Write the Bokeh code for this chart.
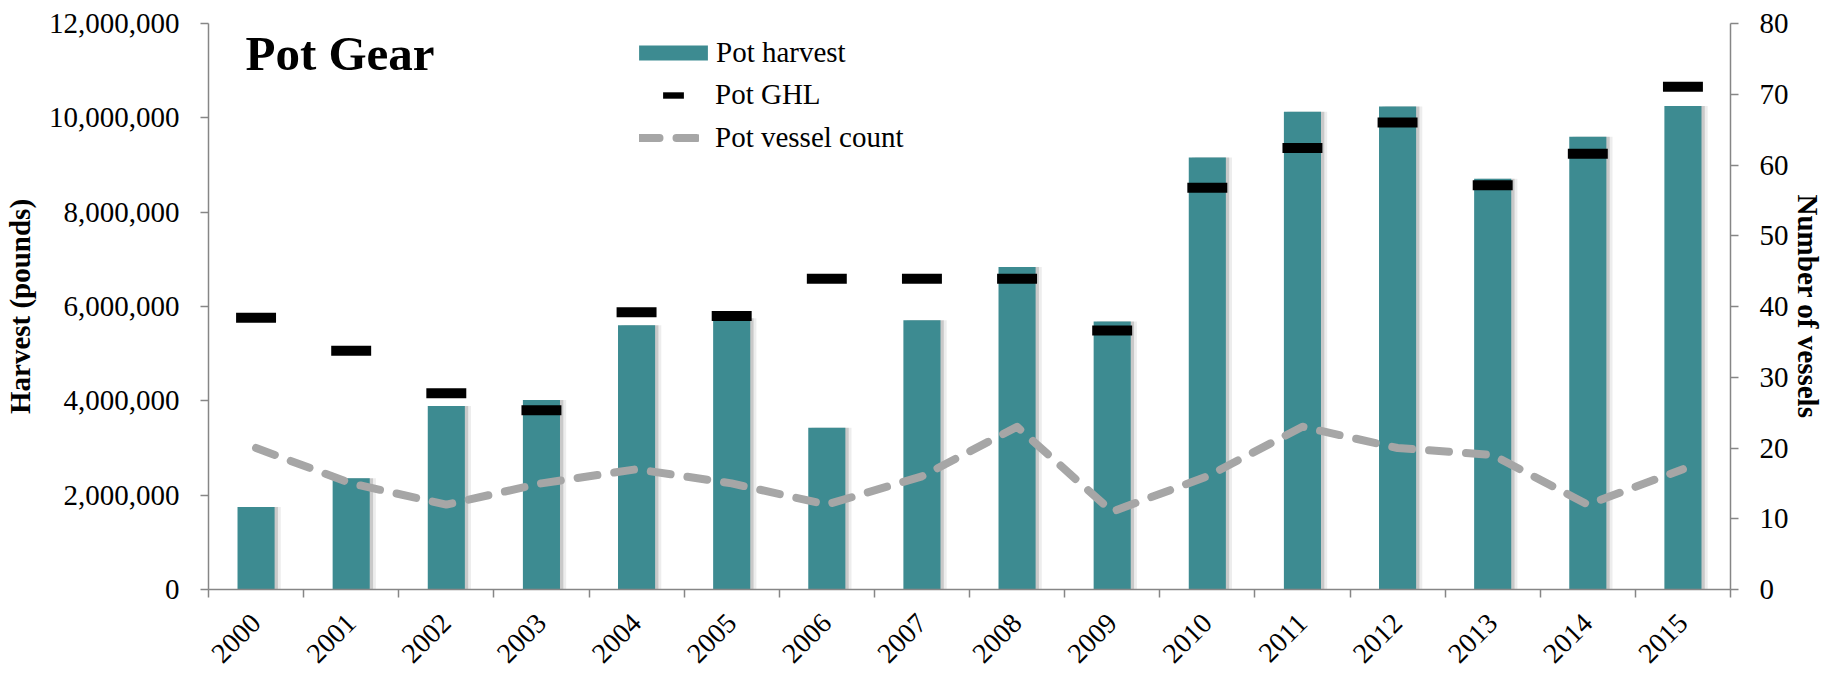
import math
from bokeh.plotting import figure
from bokeh.models import (FactorRange, Range1d, LinearAxis, FixedTicker, NumeralTickFormatter,
                          Legend, LegendItem, Label, ColumnDataSource)
from bokeh.transform import dodge
from bokeh.embed import file_html
from bokeh.resources import INLINE

# ---- data ----
years = [str(y) for y in range(2000, 2016)]
harvest = [1750000, 2360000, 3890000, 4020000, 5600000, 5750000, 3430000, 5710000,
           6840000, 5680000, 9160000, 10130000, 10240000, 8710000, 9600000, 10250000]
ghl = [5760000, 5060000, 4160000, 3800000, 5880000, 5800000, 6590000, 6590000,
       6590000, 5490000, 8520000, 9360000, 9900000, 8570000, 9240000, 10660000]
vessels = [20, 15, 12, 15, 17, 15, 12, 16, 23, 11, 16, 23, 20, 19, 12, 17]
left_ticks = [0, 2000000, 4000000, 6000000, 8000000, 10000000, 12000000]
right_ticks = [0, 10, 20, 30, 40, 50, 60, 70, 80]

FONT = "Liberation Serif"
GRAY = "#868686"
TEAL = "#3D8B91"

src = ColumnDataSource(dict(year=years, harvest=harvest, ghl=ghl, vessels=vessels))

p = figure(x_range=FactorRange(*years, range_padding=0), y_range=Range1d(0, 12000000),
           width=1827, height=673, output_backend="svg", toolbar_location=None,
           min_border_left=208, min_border_right=97, min_border_top=23, min_border_bottom=83,
           outline_line_color=None, background_fill_color="white")
p.extra_y_ranges = {"vessels": Range1d(0, 80)}
p.xgrid.visible = False
p.ygrid.visible = False

# shadows
p.vbar(x=dodge("year", 0.065, range=p.x_range), top="harvest", width=0.39, source=src,
       fill_color="black", fill_alpha=0.07, line_color=None)
p.vbar(x=dodge("year", 0.035, range=p.x_range), top="harvest", width=0.39, source=src,
       fill_color="black", fill_alpha=0.15, line_color=None)
bars = p.vbar(x="year", top="harvest", width=0.39, source=src, fill_color=TEAL, line_color=None)
ghl_r = p.rect(x="year", y="ghl", width=0.42, height=10, height_units="screen", source=src,
               fill_color="black", line_color=None)
line_r = p.line(x="year", y="vessels", y_range_name="vessels", source=src, line_color="#A6A6A6",
                line_width=8, line_dash="20 17", line_cap="round", line_join="round")

# left axis
ya = p.yaxis[0]
ya.ticker = FixedTicker(ticks=left_ticks, minor_ticks=[])
ya.formatter = NumeralTickFormatter(format="0,0")
ya.axis_label = "Harvest (pounds)"
ya.axis_label_text_font = FONT
ya.axis_label_text_font_style = "bold"
ya.axis_label_text_font_size = "29px"
ya.axis_label_text_color = "black"
ya.axis_label_standoff = 10
ya.major_label_text_font = FONT
ya.major_label_text_font_size = "29px"
ya.major_label_text_color = "black"
ya.major_label_standoff = 21
ya.axis_line_color = GRAY
ya.axis_line_width = 1.5
ya.major_tick_line_color = GRAY
ya.major_tick_line_width = 1.5
ya.major_tick_out = 8
ya.major_tick_in = 0

# right axis
ra = LinearAxis(y_range_name="vessels", ticker=FixedTicker(ticks=right_ticks, minor_ticks=[]),
                axis_label="Number of vessels", axis_label_text_font=FONT,
                axis_label_text_font_style="bold", axis_label_text_font_size="29px",
                axis_label_text_color="black", axis_label_standoff=0,
                major_label_text_font=FONT, major_label_text_color="black",
                major_label_text_font_size="29px", major_label_standoff=21,
                axis_line_color=GRAY, axis_line_width=1.5, major_tick_line_color=GRAY,
                major_tick_line_width=1.5, major_tick_out=8, major_tick_in=0)
p.add_layout(ra, "right")

# bottom: tick axis (category boundaries, synthetic coords) + label axis (categories)
tick_axis = LinearAxis(ticker=FixedTicker(ticks=list(range(len(years) + 1)), minor_ticks=[]),
                       major_label_overrides={i: "" for i in range(len(years) + 1)},
                       major_label_text_font_size="1px", major_label_standoff=0,
                       axis_line_color=GRAY, axis_line_width=1.5, major_tick_line_color=GRAY,
                       major_tick_line_width=1.5, major_tick_out=8, major_tick_in=0)
cat_axis = p.below[0]
cat_axis.axis_line_color = None
cat_axis.major_tick_line_color = None
cat_axis.major_label_orientation = math.pi / 4
cat_axis.major_label_text_font = FONT
cat_axis.major_label_text_font_size = "28px"
cat_axis.major_label_text_color = "black"
cat_axis.major_label_standoff = 15
p.below = [tick_axis, cat_axis]

# legends
def mk_legend(label, r, x, y, gw, gh, standoff):
    return Legend(items=[LegendItem(label=label, renderers=[r])], location=(x, y),
                  glyph_width=gw, glyph_height=gh, label_standoff=standoff,
                  padding=0, margin=0, spacing=0, border_line_alpha=0,
                  background_fill_alpha=0, label_text_font=FONT, label_text_font_size="29px",
                  label_text_color="black")

p.add_layout(mk_legend("Pot harvest", bars, 422, 520, 86, 19, 0))
p.add_layout(mk_legend("Pot GHL", ghl_r, 452, 478, 26, 8, 29))
p.add_layout(mk_legend("Pot vessel count", line_r, 431, 435, 60, 19, 16))

p.add_layout(Label(x=37, y=536, x_units="screen", y_units="screen", text="Pot Gear",
                   text_font=FONT, text_font_style="bold", text_font_size="49px",
                   text_color="black", text_baseline="alphabetic"))

open("out.html", "w").write(file_html(p, INLINE))
